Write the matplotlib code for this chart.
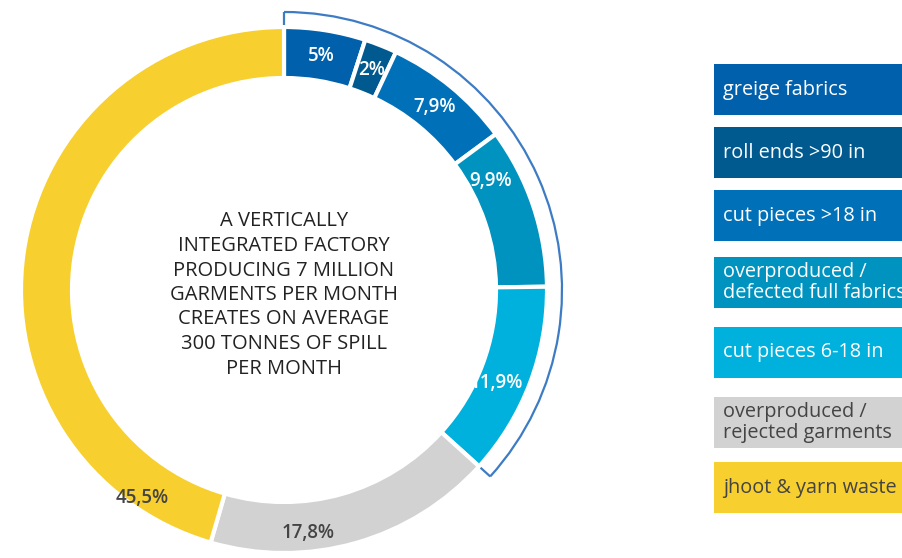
import numpy as np
import matplotlib
matplotlib.use("Agg")
import matplotlib.pyplot as plt
from matplotlib.patches import Rectangle, Arc

plt.rcParams['font.family'] = ['Open Sans', 'DejaVu Sans']

# ------------------------------
# data
# ------------------------------
categories = ["greige fabrics", "roll ends >90 in", "cut pieces >18 in",
              "overproduced /\ndefected full fabrics", "cut pieces 6-18 in",
              "overproduced /\nrejected garments", "jhoot & yarn waste"]
shares = [5, 2, 7.9, 9.9, 11.9, 17.8, 45.5]
share_labels = ["5%", "2%", "7,9%", "9,9%", "11,9%", "17,8%", "45,5%"]
colors = ["#0060ac", "#005a8f", "#0071b9", "#0093bf", "#00b1dd", "#d2d2d2", "#f7cf2e"]
text_colors = ["white"] * 5 + ["#444444", "#444444"]
n_bracket = 5  # first five slices are fabric spill
center_text = ("A VERTICALLY\nINTEGRATED FACTORY\nPRODUCING 7 MILLION\n"
               "GARMENTS PER MONTH\nCREATES ON AVERAGE\n300 TONNES OF SPILL\nPER MONTH")

# layout (pixels, y measured from top)
W, H = 902, 558
cx, cy = 284, H - 290
r_out, ring_w = 263, 51
label_frac = [0.5, 0.5, 0.5, 0.24, 0.57, 0.66, 0.11]  # where label sits inside wedge
label_r = [237, 237, 237, 234, 232, 244, 252]
leg_tops = [64, 127, 190, 257, 327, 397, 462]
leg_h = 51
leg_x = 714

fig = plt.figure(figsize=(W / 100, H / 100), dpi=100)
ax = fig.add_axes([0, 0, 1, 1])

ax.pie(shares, colors=colors, startangle=90, counterclock=False,
       radius=r_out, center=(cx, cy),
       wedgeprops=dict(width=ring_w, edgecolor="white", linewidth=3))

# percent labels
total = sum(shares)
cum = np.concatenate([[0], np.cumsum(shares)]) / total
for i, lab in enumerate(share_labels):
    f = cum[i] + label_frac[i] * (cum[i + 1] - cum[i])
    ang = np.deg2rad(90 - 360 * f)
    ax.text(cx + label_r[i] * np.cos(ang), cy + label_r[i] * np.sin(ang), lab,
            ha="center", va="center", fontsize=13.5, fontweight=600,
            color=text_colors[i])

# bracket around the fabric slices
end_deg = 90 - 360 * cum[n_bracket]
br = 278
ax.add_patch(Arc((cx, cy), 2 * br, 2 * br, theta1=end_deg, theta2=90,
                 color="#3d7cc4", lw=1.6))
for deg in (90, end_deg):
    a = np.deg2rad(deg)
    ax.plot([cx + br * np.cos(a), cx + (r_out + 2) * np.cos(a)],
            [cy + br * np.sin(a), cy + (r_out + 2) * np.sin(a)],
            color="#3d7cc4", lw=1.6, solid_capstyle="butt")

# center text
ax.text(cx, cy - 5, center_text, ha="center", va="center", fontsize=14.5,
        color="#222222", linespacing=1.3)

# legend boxes
for top, lab, col, tc in zip(leg_tops, categories, colors, text_colors):
    ax.add_patch(Rectangle((leg_x, H - top - leg_h), 250, leg_h, color=col, lw=0))
    ax.text(leg_x + 9, H - top - leg_h / 2, lab, ha="left", va="center",
            fontsize=14.3, color=tc, linespacing=1.05)

ax.set_xlim(0, W)
ax.set_ylim(0, H)
ax.set_aspect("equal")
ax.axis("off")

plt.savefig("out.png", dpi=100)
plt.close()
